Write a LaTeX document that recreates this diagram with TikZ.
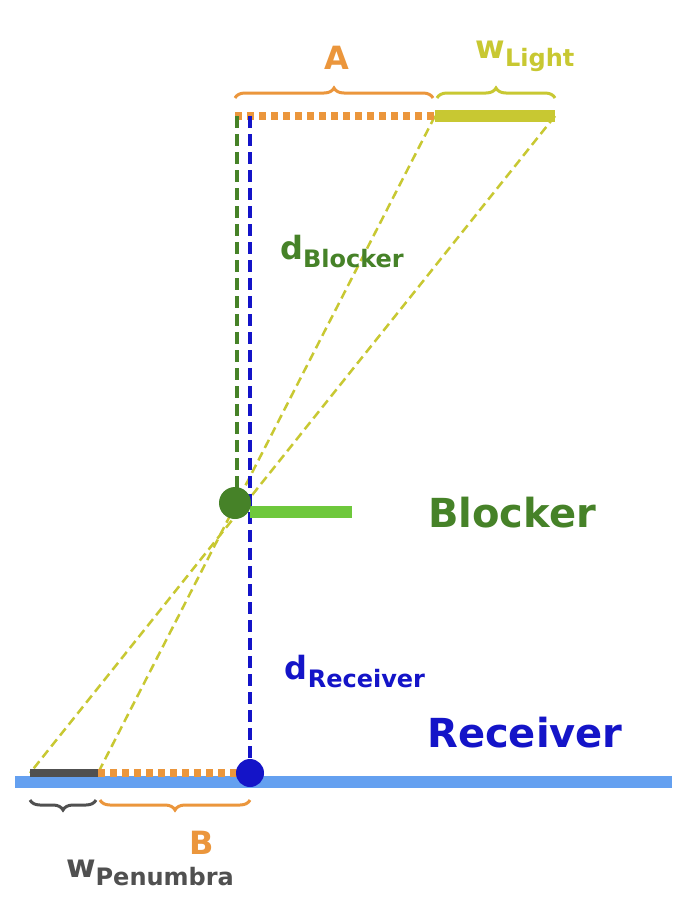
\documentclass[tikz,border=0pt]{standalone}
\usepackage{fontspec}
\setmainfont{DejaVu Sans}
\usetikzlibrary{decorations.pathreplacing}
\definecolor{orng}{RGB}{235,150,60}
\definecolor{olive}{RGB}{200,200,50}
\definecolor{dgreen}{RGB}{70,130,40}
\definecolor{lgreen}{RGB}{110,200,60}
\definecolor{dblue}{RGB}{20,20,200}
\definecolor{lblue}{RGB}{100,160,240}
\definecolor{gry}{RGB}{80,80,80}
\begin{document}
\begin{tikzpicture}[x=1pt,y=-1pt,
  dotl/.style={line width=8pt,dash pattern=on 7pt off 5pt},
  ray/.style={olive,line width=2.5pt,dash pattern=on 9pt off 5pt},
  br/.style={decorate,decoration={brace,amplitude=10pt},line width=3pt},
  lbl/.style={font=\bfseries\fontsize{32}{36}\selectfont},
  sub/.style={}]
\useasboundingbox (0,0) rectangle (686,906);
\fill[white] (0,0) rectangle (686,906);
\coordinate (LA) at (235,116); \coordinate (LL) at (435,116); \coordinate (LR) at (555,116);
\coordinate (PL) at (30,773); \coordinate (PR) at (98,773); \coordinate (RC) at (250,773);
\draw[lblue,line width=12pt] (15,782) -- (672,782);
\draw[ray] (LL) -- (PR);
\draw[ray] (LR) -- (PL);
\draw[orng,dotl] (LA) -- (LL);
\draw[olive,line width=12pt] (LL) -- (LR);
\draw[dgreen,line width=4pt,dash pattern=on 12pt off 6pt] (237,116) -- (237,500);
\draw[dblue,line width=4pt,dash pattern=on 12pt off 6pt] (250,116) -- (RC);
\draw[lgreen,line width=12pt] (250,512) -- (352,512);
\node[circle,fill=dgreen,minimum size=32pt,inner sep=0] (bc) at (235,503) {};
\node[text=dgreen,font=\bfseries\fontsize{40}{44}\selectfont] (bl) at (512,513) {Blocker};
\draw[gry,line width=8pt] (PL) -- (PR);
\draw[orng,dotl] (PR) -- (238,773);
\node[circle,fill=dblue,minimum size=28pt,inner sep=0] (rc) at (RC) {};
\node[text=dblue,font=\bfseries\fontsize{40}{44}\selectfont] (rl) at (525,733) {Receiver};
\node[text=dgreen,lbl] (db) at (342,252) {d\raisebox{-8pt}{\fontsize{24}{28}\selectfont Blocker}};
\node[text=dblue,lbl] (dr) at (355,672) {d\raisebox{-8pt}{\fontsize{24}{28}\selectfont Receiver}};
\draw[orng,br] (235,98) -- (433,98);
\node[text=orng,lbl] (A) at (337,58) {A};
\draw[olive,br] (437,98) -- (555,98);
\node[text=olive,lbl] (wl) at (525,56) {w\raisebox{-8pt}{\fontsize{24}{28}\selectfont Light}};
\draw[orng,br] (250,800) -- (100,800);
\node[text=orng,lbl] (B) at (202,843) {B};
\draw[gry,br] (96,800) -- (30,800);
\node[text=gry,lbl] (wp) at (150,873) {w\raisebox{-8pt}{\fontsize{24}{28}\selectfont Penumbra}};
\end{tikzpicture}
\end{document}
